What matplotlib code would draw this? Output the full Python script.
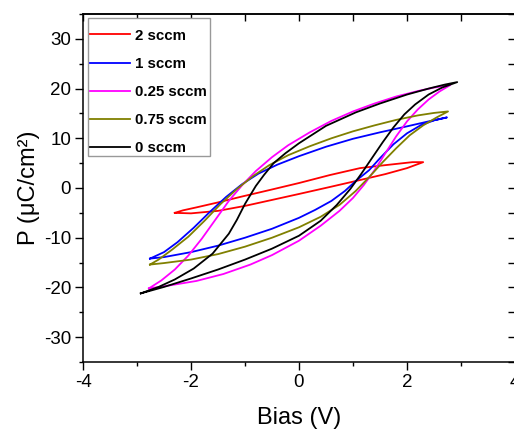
import matplotlib
matplotlib.use("Agg")
import matplotlib.pyplot as plt
from matplotlib.patches import Rectangle
from matplotlib.ticker import MultipleLocator

plt.rcParams['font.family'] = ['Liberation Sans', 'DejaVu Sans']
plt.rcParams['axes.unicode_minus'] = False

# P-V hysteresis loops: rising branch (left tip -> right tip), then falling branch back
bias_2sccm = [-2.3, -2.0, -1.5, -1.0, -0.5, 0.0, 0.57, 1.13, 1.6, 2.0, 2.2, 2.3,
              2.1, 1.6, 1.13, 0.57, 0.0, -0.54, -1.09, -1.5, -1.9, -2.15, -2.3]
pol_2sccm = [-5.0, -5.1, -4.6, -3.6, -2.4, -1.2, 0.2, 1.6, 2.8, 4.0, 4.8, 5.2,
             5.2, 4.6, 4.0, 2.6, 1.0, -0.4, -1.8, -2.9, -3.9, -4.5, -5.0]

bias_1sccm = [-2.76, -2.5, -2.0, -1.5, -1.0, -0.5, 0.0, 0.3, 0.6, 0.85, 1.05, 1.3, 1.5,
              1.75, 2.0, 2.25, 2.5, 2.74,
              2.4, 2.0, 1.5, 1.0, 0.5, 0.0, -0.4, -0.75, -1.05, -1.35, -1.65,
              -1.95, -2.25, -2.5, -2.76]
pol_1sccm = [-14.2, -13.9, -12.9, -11.6, -10.0, -8.2, -6.0, -4.4, -2.6, -0.6, 1.4, 3.6, 6.0,
             8.8, 11.0, 12.6, 13.6, 14.2,
             13.4, 12.4, 11.2, 9.9, 8.3, 6.4, 4.7, 2.9, 0.8, -1.8, -4.8,
             -8.0, -10.9, -12.9, -14.2]

bias_025sccm = [-2.78, -2.4, -1.9, -1.4, -0.9, -0.5, 0.0, 0.4, 0.75, 1.0, 1.2, 1.4, 1.6,
                1.8, 2.0, 2.2, 2.4, 2.6, 2.8,
                2.5, 2.2, 1.8, 1.4, 1.0, 0.6, 0.2, -0.2, -0.5, -0.8, -1.05, -1.3,
                -1.55, -1.8, -2.05, -2.3, -2.55, -2.78]
pol_025sccm = [-20.2, -19.6, -18.7, -17.3, -15.4, -13.5, -10.6, -7.6, -4.6, -2.0, 0.6, 3.6, 7.0,
               10.4, 13.4, 15.8, 17.8, 19.4, 20.7,
               20.2, 19.5, 18.4, 17.0, 15.4, 13.5, 11.2, 8.6, 6.2, 3.4, 0.6, -2.6,
               -6.4, -10.2, -13.6, -16.4, -18.6, -20.2]

bias_075sccm = [-2.76, -2.5, -2.0, -1.5, -1.0, -0.5, 0.0, 0.4, 0.75, 1.05, 1.3, 1.55,
                1.8, 2.05, 2.3, 2.55, 2.76,
                2.5, 2.2, 1.8, 1.4, 1.0, 0.6, 0.2, -0.2, -0.55, -0.85, -1.15, -1.45,
                -1.75, -2.05, -2.35, -2.6, -2.76]
pol_075sccm = [-15.4, -15.1, -14.4, -13.3, -11.8, -10.0, -7.9, -5.8, -3.4, -0.6, 2.2, 5.2,
               8.0, 10.6, 12.6, 14.2, 15.4,
               15.1, 14.6, 13.7, 12.6, 11.4, 10.0, 8.4, 6.6, 4.6, 2.4, -0.2, -3.2,
               -6.6, -9.8, -12.4, -14.4, -15.4]

bias_0sccm = [-2.93, -2.5, -2.0, -1.5, -1.0, -0.5, 0.0, 0.4, 0.7, 0.95, 1.15, 1.35, 1.55,
              1.75, 1.95, 2.15, 2.4, 2.65, 2.93,
              2.7, 2.4, 2.0, 1.5, 1.05, 0.5, 0.0, -0.25, -0.47, -0.65, -0.8, -1.0,
              -1.15, -1.3, -1.6, -1.95, -2.3, -2.6, -2.93]
pol_0sccm = [-21.2, -19.9, -18.2, -16.4, -14.4, -12.2, -9.6, -6.6, -3.4, -0.2, 2.8, 6.0, 9.2,
             12.2, 14.8, 16.8, 18.8, 20.2, 21.3,
             20.8, 20.0, 18.8, 17.0, 15.2, 12.5, 9.0, 7.0, 5.0, 2.6, 0.4, -3.2,
             -6.4, -9.2, -13.2, -16.2, -18.4, -19.9, -21.2]

labels = ['2 sccm', '1 sccm', '0.25 sccm', '0.75 sccm', '0 sccm']
colors = ['#ff0000', '#0000ff', '#ff00ff', '#808000', '#000000']
series = [(bias_2sccm, pol_2sccm), (bias_1sccm, pol_1sccm),
          (bias_025sccm, pol_025sccm), (bias_075sccm, pol_075sccm),
          (bias_0sccm, pol_0sccm)]

W, H = 514, 430
fig = plt.figure(figsize=(W / 100, H / 100), dpi=100)
ax = fig.add_axes([83 / W, 68 / H, 432 / W, 348 / H])

for (xv, yv), c, lab in zip(series, colors, labels):
    ax.plot(xv, yv, color=c, lw=1.3, label=lab, solid_joinstyle='round')

ax.set_xlim(-4, 4)
ax.set_ylim(-35, 35)
ax.xaxis.set_major_locator(MultipleLocator(2))
ax.xaxis.set_minor_locator(MultipleLocator(1))
ax.yaxis.set_major_locator(MultipleLocator(10))
ax.yaxis.set_minor_locator(MultipleLocator(5))
ax.tick_params(which='both', direction='out', width=1.0, labelsize=13.5, colors='black')
ax.tick_params(which='major', length=5.5, pad=3)
ax.tick_params(which='minor', length=3)
for s in ax.spines.values():
    s.set_linewidth(1.1)

# mirrored ticks on top and right, pointing inward
top = ax.secondary_xaxis('top')
top.xaxis.set_major_locator(MultipleLocator(2))
top.xaxis.set_minor_locator(MultipleLocator(1))
top.tick_params(which='both', direction='in', labeltop=False, width=1.0, length=5)
top.spines['top'].set_linewidth(1.1)
right = ax.secondary_yaxis('right')
right.yaxis.set_major_locator(MultipleLocator(10))
right.yaxis.set_minor_locator(MultipleLocator(5))
right.tick_params(which='both', direction='in', labelright=False, width=1.0, length=5)

ax.set_xlabel('Bias (V)', fontsize=17, labelpad=12)
ax.set_ylabel('P (μC/cm²)', fontsize=17, labelpad=3)

# legend box drawn as its own frame, entries placed inside it
box = Rectangle((88 / W, 1 - 156 / H), 122 / W, 138 / H, transform=fig.transFigure,
                facecolor='white', edgecolor='#999999', linewidth=1.0, zorder=4)
ax.add_patch(box)
leg = ax.legend(loc='upper left', bbox_to_anchor=(2 / 432, 1 - 10 / 348), borderaxespad=0,
                prop={'weight': 'bold', 'size': 10.8}, handlelength=2.7,
                handletextpad=0.33, labelspacing=0.95, borderpad=0.3,
                frameon=False)
leg.set_zorder(5)

fig.savefig('out.png', dpi=100)
